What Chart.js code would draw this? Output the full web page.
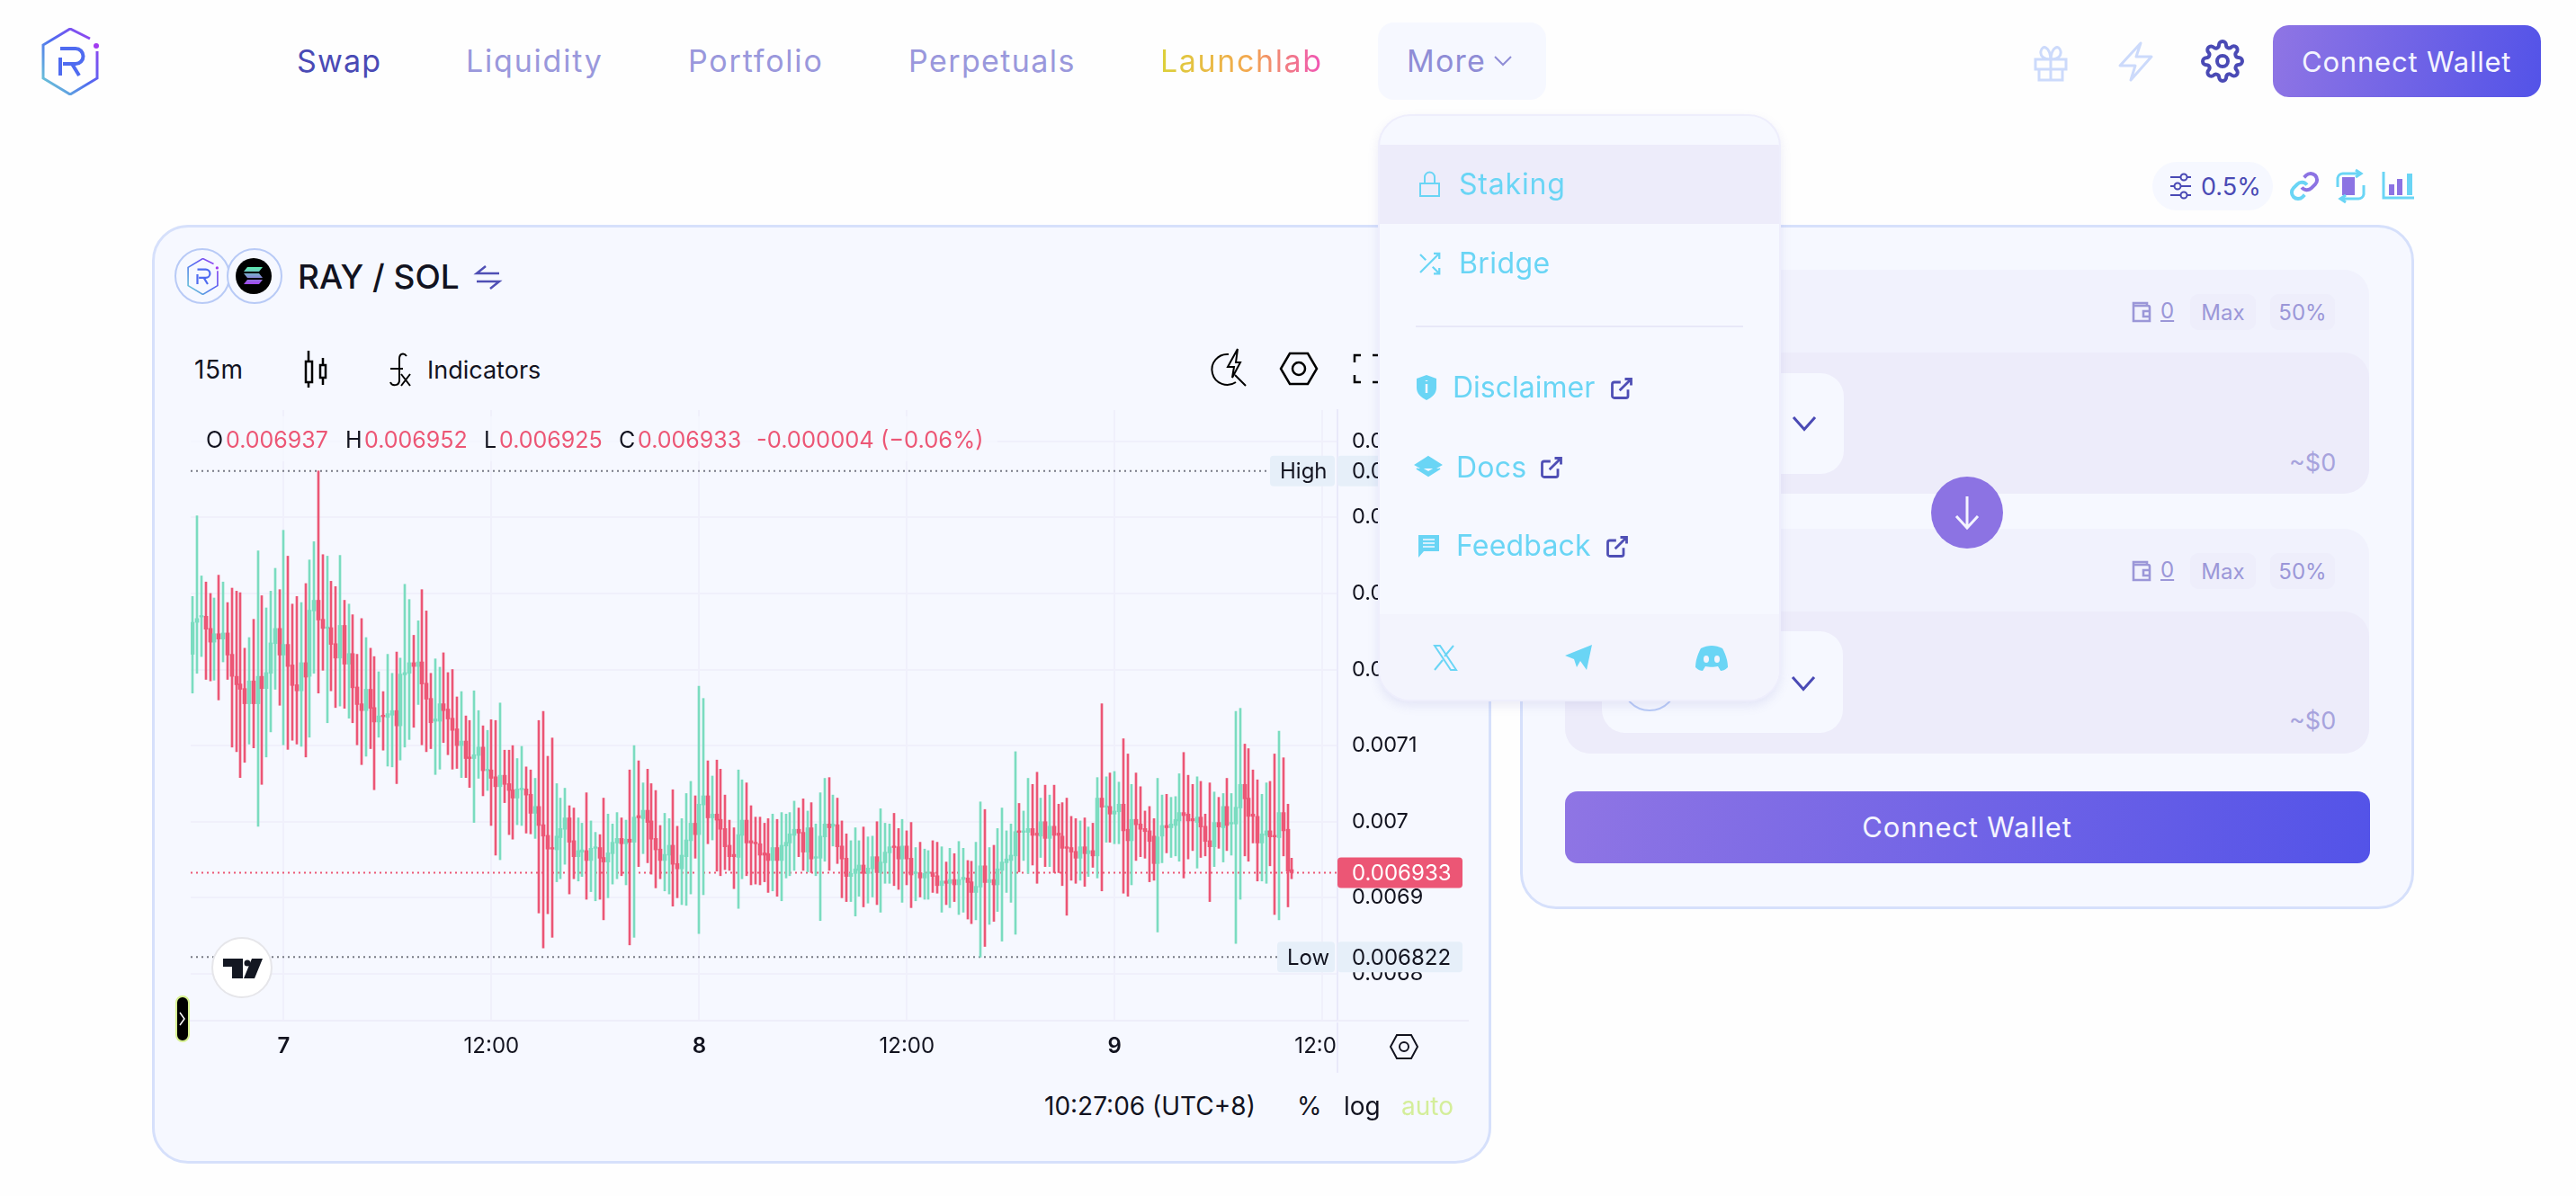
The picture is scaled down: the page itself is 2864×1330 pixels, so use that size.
<!DOCTYPE html>
<html>
<head>
<meta charset="utf-8">
<title>RAY / SOL</title>
<script src="https://cdn.jsdelivr.net/npm/chart.js@4/dist/chart.umd.min.js"></script>
<style>
html, body { margin: 0; padding: 0; background: #fefefe; }
body { width: 2864px; height: 1330px; overflow: hidden; position: relative; font-family: Inter, sans-serif; color: #12131f; }
.box { position: absolute; box-sizing: border-box; }
.t { position: absolute; white-space: nowrap; line-height: 1; transform: translateY(-50%); }
.nav { font-size: 34px; color: #9a98dc; letter-spacing: 1.8px; }
.menu-t { font-size: 32px; color: #6ad5f5; }
.pill { position: absolute; background: #eeeefb; border-radius: 9px; color: #9b97d8; font-size: 24px; display: flex; align-items: center; justify-content: center; }
.usd { font-size: 27px; color: #a7a3dd; }
.low { z-index: 1; }
.mid { z-index: 3; }
.top { z-index: 6; }
svg.layer { position: absolute; left: 0; top: 0; pointer-events: none; }
#chartWrap { position: absolute; left: 170px; top: 440px; width: 1457px; height: 750px; z-index: 2; }
.legend { font-size: 25px; color: #ec5675; }
.legend b { font-weight: 400; color: #12131f; }
</style>
</head>
<body>

<!-- nav -->
<div class="t nav" style="left:330px;top:68px;color:#4a4ab5;letter-spacing:1.2px">Swap</div>
<div class="t nav" style="left:518px;top:68px">Liquidity</div>
<div class="t nav" style="left:765px;top:68px">Portfolio</div>
<div class="t nav" style="left:1010px;top:68px;letter-spacing:1.4px">Perpetuals</div>
<div class="t nav" style="left:1290px;top:68px;letter-spacing:1.6px;background:linear-gradient(90deg,#dcd13a,#f3a74e 55%,#f052b8);-webkit-background-clip:text;background-clip:text;color:transparent">Launchlab</div>
<div class="box" style="left:1532px;top:25px;width:187px;height:86px;background:#f6f8ff;border-radius:18px"></div>
<div class="t nav" style="left:1564px;top:68px;color:#8f8dd6;z-index:1;letter-spacing:1.2px">More</div>
<div class="box" style="left:2527px;top:28px;width:298px;height:80px;border-radius:18px;background:linear-gradient(100deg,#8f75e4,#5353e8)"></div>
<div class="t" style="left:2559px;top:68px;font-size:31px;color:#f4f4ff;letter-spacing:.8px;z-index:1">Connect Wallet</div>
<div class="box" style="left:2393px;top:180px;width:134px;height:54px;background:#f6f8ff;border-radius:27px"></div>
<div class="t" style="left:2447px;top:207px;font-size:27px;color:#4a4ab5">0.5%</div>

<!-- chart card -->
<div class="box low" style="left:169px;top:250px;width:1489px;height:1044px;background:#f6f8ff;border:3px solid #d6e0fb;border-radius:40px"></div>
<div class="t low" style="left:331px;top:307px;font-size:37px;font-weight:500;z-index:3">RAY / SOL</div>
<div class="t mid" style="left:216px;top:411px;font-size:28px;letter-spacing:.6px">15m</div>
<div class="t mid" style="left:475px;top:411px;font-size:27px">Indicators</div>
<div id="chartWrap"><canvas id="chart" width="1457" height="750"></canvas></div>

<!-- OHLC legend over the plot -->
<div class="box mid" style="left:212px;top:463px;width:897px;height:50px;background:rgba(246,248,255,.75)"></div>
<div class="t legend mid" style="left:229px;top:489px"><b>O</b></div><div class="t legend mid" style="left:251px;top:489px">0.006937</div>
<div class="t legend mid" style="left:384px;top:489px"><b>H</b></div><div class="t legend mid" style="left:405px;top:489px">0.006952</div>
<div class="t legend mid" style="left:538px;top:489px"><b>L</b></div><div class="t legend mid" style="left:555px;top:489px">0.006925</div>
<div class="t legend mid" style="left:688px;top:489px"><b>C</b></div><div class="t legend mid" style="left:709px;top:489px">0.006933</div>
<div class="t legend mid" style="left:841px;top:489px;font-size:25.500px">-0.000004 (−0.06%)</div>

<!-- bits around the axes -->
<div class="box mid" style="left:1486px;top:1137px;width:160px;height:56px;background:#f6f8ff;border-left:2px solid #e9e9fa"></div>
<div class="box mid" style="left:1487px;top:1134px;width:146px;height:2px;background:#eeeefa"></div>
<div class="t mid" style="left:1161px;top:1230px;font-size:28px">10:27:06 (UTC+8)</div>
<div class="t mid" style="left:1442px;top:1230px;font-size:28px">%</div>
<div class="t mid" style="left:1494px;top:1230px;font-size:28px">log</div>
<div class="t mid" style="left:1558px;top:1230px;font-size:28px;color:#d4ee9a">auto</div>
<div class="box mid" style="left:235px;top:1042px;width:68px;height:68px;border-radius:50%;background:#fff;border:2px solid #e6e6ea"></div>
<div class="box mid" style="left:195px;top:1107px;width:16px;height:52px;border-radius:8px;background:#000;border:2px solid #d6f08f"></div>

<!-- swap card -->
<div class="box low" style="left:1690px;top:250px;width:994px;height:761px;background:#f6f8ff;border:3px solid #d6e0fb;border-radius:40px"></div>
<div class="box low" style="left:1740px;top:300px;width:894px;height:249px;background:#f1f2fd;border-radius:28px"></div>
<div class="box low" style="left:1740px;top:392px;width:894px;height:157px;background:#edecfa;border-radius:28px"></div>
<div class="box low" style="left:1781px;top:415px;width:269px;height:112px;background:#f6f8ff;border-radius:26px"></div>
<div class="box low" style="left:1740px;top:588px;width:894px;height:250px;background:#f1f2fd;border-radius:28px"></div>
<div class="box low" style="left:1740px;top:680px;width:894px;height:158px;background:#edecfa;border-radius:28px"></div>
<div class="box low" style="left:1781px;top:702px;width:268px;height:113px;background:#f6f8ff;border-radius:26px"></div>
<div class="pill low" style="left:2435px;top:327px;width:73px;height:40px">Max</div>
<div class="pill low" style="left:2524px;top:327px;width:72px;height:40px">50%</div>
<div class="pill low" style="left:2435px;top:615px;width:73px;height:40px">Max</div>
<div class="pill low" style="left:2524px;top:615px;width:72px;height:40px">50%</div>
<div class="t low" style="left:2402px;top:346px;font-size:24px;color:#9b97d8;text-decoration:underline">0</div>
<div class="t low" style="left:2402px;top:634px;font-size:24px;color:#9b97d8;text-decoration:underline">0</div>
<div class="t usd low" style="left:2545px;top:514px">~$0</div>
<div class="t usd low" style="left:2545px;top:801px">~$0</div>
<div class="box low" style="left:2147px;top:530px;width:80px;height:80px;border-radius:50%;background:#8c73e3"></div>
<div class="box low" style="left:1740px;top:880px;width:895px;height:80px;border-radius:14px;background:linear-gradient(100deg,#8f75e4,#5353e8)"></div>
<div class="t low" style="left:2187px;top:919px;font-size:31px;color:#f4f4ff;letter-spacing:.8px;transform:translate(-50%,-50%)">Connect Wallet</div>

<!-- icons below the menu -->
<svg class="layer mid" width="2864" height="1330" fill="none">
  <defs>
    <linearGradient id="rayGrad" x1="0" y1="1" x2="1" y2="0">
      <stop offset="0" stop-color="#6fd6d2"/><stop offset=".5" stop-color="#4f6bf0"/><stop offset="1" stop-color="#a23bf0"/>
    </linearGradient>
    <linearGradient id="solGrad" x1="0" y1="0" x2="0" y2="1">
      <stop offset="0" stop-color="#5ef0b0"/><stop offset="1" stop-color="#a445f0"/>
    </linearGradient>
    <symbol id="rayLogo" viewBox="0 0 64 75">
      <path d="M54 12 32 1 2 19V56L32 74 62 56V26" stroke="url(#rayGrad)" stroke-width="3"/>
      <circle cx="61" cy="20" r="3" fill="#a23bf0"/>
      <path d="M21 53V33M21 23H38a8.500 8.500 0 0 1 0 17H24M34 40 42 53" stroke="#4f6bf0" stroke-width="4"/>
    </symbol>
    <symbol id="ext" viewBox="0 0 24 24"><path d="M18 13v6a2 2 0 0 1-2 2H5a2 2 0 0 1-2-2V8a2 2 0 0 1 2-2h6M15 3h6v6M10 14 21 3" stroke="#4f4fb5" stroke-width="2.400" fill="none"/></symbol>
    <symbol id="chev" viewBox="0 0 24 24"><path d="M4 8l8 9 8-9" stroke="#4a4ab5" stroke-width="2" fill="none"/></symbol>
    <symbol id="wallet" viewBox="0 0 24 26"><path d="M3 6h16a2 2 0 0 1 2 2v15H3zM3 6V3h15v3M21 12h-7v6h7" stroke="#9b97d8" stroke-width="2.600" fill="none"/></symbol>
  </defs>
  <use href="#rayLogo" x="46" y="31" width="64" height="75"/>
  <path d="M1662 63l9 9 9-9" stroke="#8f8dd6" stroke-width="2"/>
  <g stroke="#ccdafb" stroke-width="3">
    <path d="M2263 66h34v11h-34zM2267 77v12h26v-12M2280 66v23M2280 66c-8 0-12-4-11-9 2-8 10-5 11 9zM2280 66c8 0 12-4 11-9-2-8-10-5-11 9z"/>
    <path d="M2380 48 2357 73h17l-5 16 23-26h-17z" stroke-linejoin="round"/>
  </g>
  <svg x="2447" y="44" width="48" height="48" viewBox="0 0 24 24" stroke="#4a4ab5" stroke-width="2" fill="none">
    <circle cx="12" cy="12" r="3"/>
    <path d="M19.400 15a1.650 1.650 0 0 0 .33 1.820l.06.06a2 2 0 0 1 0 2.830 2 2 0 0 1-2.830 0l-.06-.06a1.650 1.650 0 0 0-1.820-.33 1.650 1.650 0 0 0-1 1.510V21a2 2 0 0 1-2 2 2 2 0 0 1-2-2v-.09A1.650 1.650 0 0 0 9 19.400a1.650 1.650 0 0 0-1.820.33l-.06.06a2 2 0 0 1-2.830 0 2 2 0 0 1 0-2.830l.06-.06a1.650 1.650 0 0 0 .33-1.820 1.650 1.650 0 0 0-1.510-1H3a2 2 0 0 1-2-2 2 2 0 0 1 2-2h.09A1.650 1.650 0 0 0 4.600 9a1.650 1.650 0 0 0-.33-1.820l-.06-.06a2 2 0 0 1 0-2.830 2 2 0 0 1 2.830 0l.06.06a1.650 1.650 0 0 0 1.820.33H9a1.650 1.650 0 0 0 1-1.510V3a2 2 0 0 1 2-2 2 2 0 0 1 2 2v.09a1.650 1.650 0 0 0 1 1.510 1.650 1.650 0 0 0 1.820-.33l.06-.06a2 2 0 0 1 2.830 0 2 2 0 0 1 0 2.830l-.06.06a1.650 1.650 0 0 0-.33 1.820V9a1.650 1.650 0 0 0 1.510 1H21a2 2 0 0 1 2 2 2 2 0 0 1-2 2h-.09a1.650 1.650 0 0 0-1.510 1z"/>
  </svg>
  <path d="M2413 197h23M2413 207h23M2413 217h23" stroke="#4a4ab5" stroke-width="2"/>
  <circle cx="2428" cy="197" r="3.500" fill="#f6f8ff" stroke="#4a4ab5" stroke-width="2"/><circle cx="2421" cy="207" r="3.500" fill="#f6f8ff" stroke="#4a4ab5" stroke-width="2"/><circle cx="2428" cy="217" r="3.500" fill="#f6f8ff" stroke="#4a4ab5" stroke-width="2"/>
  <svg x="2545" y="190" width="34" height="34" viewBox="0 0 24 24" stroke-width="2.800" fill="none">
    <path d="M10 13a5 5 0 0 0 7.540.54l3-3a5 5 0 0 0-7.070-7.070l-1.720 1.710" stroke="#8c73e3"/>
    <path d="M14 11a5 5 0 0 0-7.540-.54l-3 3a5 5 0 0 0 7.070 7.070l1.710-1.710" stroke="#6ad5f5"/>
  </svg>
  <rect x="2604" y="197" width="14" height="20" fill="#8c73e3"/>
  <path d="M2599 208v-10a6 6 0 0 1 6-5h20M2619 189l6 4-6 4M2628 206v10a6 6 0 0 1-6 5h-20M2608 217l-6 4 6 4" stroke="#6ad5f5" stroke-width="3"/>
  <path d="M2650 191v29h34" stroke="#6ad5f5" stroke-width="3"/>
  <rect x="2656" y="205" width="6" height="12" fill="#8c73e3"/><rect x="2665" y="199" width="6" height="18" fill="#8c73e3"/><rect x="2676" y="193" width="6" height="24" fill="#6ad5f5"/>

  <!-- chart card header -->
  <circle cx="225" cy="307" r="30" fill="#f6f8ff" stroke="#b8caf6" stroke-width="2"/>
  <use href="#rayLogo" x="208" y="287" width="35" height="41"/>
  <circle cx="283" cy="307" r="30" fill="#f6f8ff" stroke="#b8caf6" stroke-width="2"/>
  <circle cx="282" cy="307" r="20" fill="#000"/>
  <path d="M275 297h17l-4 5h-17zM271 304h17l4 5h-17zM275 311h17l-4 5h-17z" fill="url(#solGrad)"/>
  <path d="M555 304h-25l10-8M530 313h25l-10 8" stroke="#4f4fb5" stroke-width="2.500"/>
  <g stroke="#000" stroke-width="2.500">
    <path d="M340 402h7v23h-7zM343 390v12M343 425v6M356 406h6v14h-6zM359 398v8M359 420v8"/>
    <path d="M452 396c-3-4-8-3-8 3v24c0 6-8 7-10 2M434 410h14M446 416l10 13M456 416l-10 13" stroke-width="2"/>
    <path d="M1366 394a17 17 0 1 0 8 31M1373 417l12 12" stroke-width="2"/>
    <path d="M1376 388l-11 20h7l-2 12 9-17h-5z" stroke-width="2"/>
    <path d="M1434 393h20l10 17-10 17h-20l-10-17z"/><circle cx="1444" cy="410" r="7"/>
    <path d="M1506 403v-8h7M1526 395h8M1506 417v8h7M1526 425h8"/>
  </g>
  <!-- token selects -->
  <use href="#chev" x="1988" y="452" width="36" height="36"/>
  <use href="#chev" x="1987" y="741" width="36" height="36"/>
  <use href="#wallet" x="2369" y="334" width="24" height="26"/>
  <use href="#wallet" x="2369" y="622" width="24" height="26"/>
  <circle cx="1834" cy="760" r="30" fill="none" stroke="#b8caf6" stroke-width="2"/>
  <path d="M2187 552v34M2175 574l12 13 12-13" stroke="#f4f4ff" stroke-width="3"/>
  <!-- tv logo, handle and gear on the chart -->
  <path d="M248 1066h22v22h-12v-13h-10zM280 1066h12l-9 22h-12z" fill="#131722"/><circle cx="275" cy="1071" r="3.500" fill="#131722"/>
  <path d="M200 1126l5 7-5 7" stroke="#fff" stroke-width="1.500"/>
  <path d="M1553 1151h16l7 13-7 13h-16l-7-13z" stroke="#12131f" stroke-width="2"/><circle cx="1561" cy="1164" r="5" stroke="#12131f" stroke-width="2"/>
</svg>

<!-- more menu -->
<div class="box top" style="left:1532px;top:127px;width:448px;height:653px;background:#f6f8ff;border:2px solid #eeeefc;border-radius:36px;box-shadow:0 5px 12px rgba(120,120,200,.14);overflow:hidden">
  <div class="box" style="left:0;top:32px;width:100%;height:88px;background:#edecfa"></div>
  <div class="box" style="left:0;top:554px;width:100%;height:100px;background:#f3f4fd"></div>
  <div class="box" style="left:40px;top:233px;width:364px;height:2px;background:#e8e8f8"></div>
</div>
<div class="t menu-t top" style="left:1622px;top:205px;letter-spacing:.8px">Staking</div>
<div class="t menu-t top" style="left:1622px;top:293px;letter-spacing:.4px">Bridge</div>
<div class="t menu-t top" style="left:1615px;top:431px">Disclaimer</div>
<div class="t menu-t top" style="left:1619px;top:520px;letter-spacing:.2px">Docs</div>
<div class="t menu-t top" style="left:1619px;top:607px;letter-spacing:.2px">Feedback</div>
<svg class="layer top" width="2864" height="1330" fill="none">
  <path d="M1579 204h21v14h-21zM1584 204v-7a5.500 5.500 0 0 1 11 0v7" stroke="#6ad5f5" stroke-width="2"/>
  <svg x="1574" y="278" width="30" height="30" viewBox="0 0 24 24" stroke="#6ad5f5" stroke-width="1.800" fill="none"><path d="M16 3h5v5M4 20 21 3M21 16v5h-5M15 15l6 6M4 4l5 5"/></svg>
  <path d="M1586 417l11 4v10c0 7-5 11-11 14-6-3-11-7-11-14v-10z" fill="#6ad5f5"/><path d="M1586 427v10M1586 423v1" stroke="#f6f8ff" stroke-width="2.500"/>
  <path d="M1588 508l14 9-14 8-14-8zM1575 521l13 8 13-8" fill="#6ad5f5" stroke="#6ad5f5" stroke-width="2"/>
  <path d="M1577 595h23v18h-17l-6 7z" fill="#6ad5f5"/><path d="M1582 600h13M1582 604h13M1582 608h13" stroke="#f6f8ff" stroke-width="1.500"/>
  <use href="#ext" x="1789" y="418" width="28" height="28"/>
  <use href="#ext" x="1711" y="506" width="28" height="28"/>
  <use href="#ext" x="1784" y="594" width="28" height="28"/>
  <path d="M1595 718h6l18 27h-6zM1616 718l-10 12M1604 734l-9 11" stroke="#6ad5f5" stroke-width="2"/>
  <path d="M1770 717l-6 28-7-10-4 7-3-9-10-4z" fill="#6ad5f5"/>
  <path d="M1891 721c8-4 16-4 24 0 4 7 6 15 6 21-3 3-6 4-8 4l-3-5c-4 1-10 1-14 0l-3 5c-2 0-5-1-8-4 0-6 2-14 6-21z" fill="#6ad5f5"/>
  <ellipse cx="1897" cy="733" rx="3" ry="4" fill="#f3f4fd"/><ellipse cx="1909" cy="733" rx="3" ry="4" fill="#f3f4fd"/>
</svg>

<script>
// RAY / SOL 15m candles, prices in millionths (7220 = 0.007220)
const opens = [
    7220,7262,7269,7270,7254,7236,7247,7240,7248,7220, 7191,7181,7175,7155,7185,7155,7191,7175,7195,7234,
    7254,7219,7233,7206,7180,7172,7209,7191,7277,7291, 7266,7254,7255,7234,7215,7258,7207,7221,7177,7155,
    7146,7174,7150,7131,7140,7137,7140,7146,7126,7193, 7195,7209,7204,7210,7182,7162,7132,7132,7155,7148,
    7136,7122,7100,7106,7085,7083,7087,7098,7067,7068, 7059,7046,7061,7050,7042,7031,7042,7043,7036,7011,
    7020,6996,6982,6966,6963,6979,6990,7005,6975,6954, 6960,6962,6949,6965,6966,6953,6947,6958,6972,6978,
    6971,6977,6973,7008,7004,7015,7001,6978,6964,6949, 6956,6969,6945,6938,6954,6975,6998,6983,7022,7034,
    7005,7010,7003,6991,6969,6957,6953,6982,7002,6975, 6973,6971,6959,6958,6949,6966,6949,6968,6972,6982,
    6990,6986,6960,6992,6952,6952,6980,6997,6994,6996, 6968,6952,6928,6932,6936,6943,6932,6938,6954,6933,
    6946,6959,6968,6967,6951,6968,6952,6932,6933,6926, 6932,6933,6929,6916,6922,6919,6924,6917,6924,6926,
    6921,6907,6914,6942,6920,6924,6917,6936,6946,6949, 6955,6988,6986,6986,6991,6985,6981,7000,6978,6994,
    6985,6981,6967,6966,6961,6952,6967,6958,6962,6955, 7031,7019,7020,7010,7013,7023,6990,6975,7003,6997,
    6991,6988,6981,6945,6981,6995,6992,6995,7001,7012, 7010,7004,6999,7006,6994,6975,6967,6999,6992,7020,
    6997,6997,7018,7049,7031,7010,7007,6972,6982,6988, 6982,6979,7012,6990,6937
];
const closes = [
    7262,7267,7271,7253,7236,7247,7240,7248,7219,7191, 7180,7174,7155,7185,7155,7191,7175,7196,7235,7254,
    7219,7233,7204,7179,7172,7209,7190,7278,7291,7265, 7254,7256,7233,7215,7258,7207,7221,7176,7154,7146,
    7174,7149,7131,7139,7138,7142,7146,7126,7194,7196, 7209,7204,7210,7181,7161,7130,7135,7155,7146,7135,
    7120,7100,7106,7083,7083,7088,7098,7067,7069,7057, 7046,7061,7049,7041,7031,7043,7044,7035,7011,7020,
    6995,6981,6964,6964,6981,6991,7005,6973,6954,6962, 6963,6949,6965,6967,6952,6947,6959,6973,6978,6971,
    6977,6973,7006,7005,7015,6999,6977,6963,6949,6957, 6969,6944,6938,6956,6976,6998,6983,7023,7034,7005,
    7010,7002,6990,6967,6954,6954,6983,7002,6972,6972, 6971,6956,6956,6949,6966,6949,6969,6973,6984,6990,
    6985,6960,6992,6951,6954,6981,6997,6992,6997,6967, 6951,6928,6932,6938,6943,6932,6939,6954,6933,6947,
    6960,6967,6966,6951,6968,6951,6930,6934,6926,6932, 6934,6928,6916,6922,6919,6924,6917,6924,6927,6920,
    6907,6915,6942,6920,6924,6917,6938,6947,6951,6956, 6987,6986,6988,6991,6982,6982,7000,6978,6994,6982,
    6982,6965,6965,6960,6952,6967,6958,6962,6955,7031, 7019,7021,7010,7014,7023,6988,6975,7003,6996,6990,
    6987,6974,6945,6980,6995,6992,6997,7003,7012,7008, 7001,7001,7006,6993,6974,6967,6999,6993,7020,6995,
    6999,7019,7049,7030,7007,7007,6972,6984,6988,6980, 6980,7012,6988,6935,6933
];
const highs = [
    7296,7402,7323,7315,7300,7294,7324,7315,7288,7307, 7303,7301,7228,7242,7266,7356,7297,7281,7303,7333,
    7305,7383,7349,7286,7296,7288,7313,7344,7368,7461, 7351,7349,7316,7309,7350,7291,7286,7272,7220,7267,
    7242,7228,7217,7197,7171,7220,7195,7223,7215,7312, 7292,7245,7264,7305,7277,7195,7214,7203,7222,7196,
    7200,7164,7171,7139,7133,7172,7146,7126,7120,7134, 7133,7156,7094,7094,7100,7083,7099,7072,7068,7057,
    7133,7145,7086,7110,7050,7031,7044,7021,7018,7005, 6998,7038,7001,6986,6983,7031,7010,6997,7012,7005,
    7002,7068,7100,7080,7051,7069,7050,7041,6995,7011, 7004,7042,6994,7004,7037,7053,7034,7178,7162,7080,
    7060,7081,7069,7035,7002,6992,7068,7055,7051,7021, 7006,7006,6998,7004,7010,7003,7012,7010,7012,7027,
    7018,7030,7014,7025,6997,7038,7057,7058,7035,7031, 7001,6984,6975,6992,6975,6993,6980,6981,7000,7017,
    6998,6997,7011,6991,7003,6988,6999,6966,6973,6964, 6962,6975,6973,6967,6947,6965,6958,6974,6965,6949,
    6948,6973,7026,7016,6966,6969,6991,7018,6988,6997, 7092,7024,7014,7057,7049,7065,7031,7048,7035,7048,
    7023,7025,7031,7007,7004,7001,7005,6993,6998,7058, 7155,7059,7064,7066,7052,7109,7089,7049,7064,7046,
    7014,7020,7004,7057,7035,7036,7032,7033,7063,7091, 7061,7049,7059,7053,7010,7051,7039,7032,7037,7057,
    7037,7145,7149,7102,7096,7068,7055,7036,7051,7053, 7089,7119,7084,7023,6952
];
const lows = [
    7169,7195,7217,7187,7185,7186,7160,7210,7187,7098, 7092,7058,7078,7102,7097,6994,7049,7085,7118,7174,
    7153,7101,7095,7107,7102,7099,7085,7111,7195,7169, 7199,7130,7172,7150,7152,7149,7136,7130,7101,7075,
    7086,7096,7042,7111,7094,7073,7072,7050,7081,7098, 7108,7124,7154,7101,7092,7096,7062,7069,7104,7088,
    7069,7070,7058,7058,7045,6999,7057,7034,7041,6995, 6956,6950,7025,6983,6977,6996,6995,6985,6984,6978,
    6880,6834,6879,6848,6921,6925,6944,6905,6925,6922, 6928,6898,6908,6896,6898,6871,6900,6918,6925,6929,
    6917,6838,6848,6941,6958,6946,6931,6913,6925,6909, 6905,6889,6900,6891,6890,6905,6952,6853,6904,6971,
    6976,6935,6929,6937,6936,6912,6886,6925,6929,6917, 6918,6917,6921,6907,6909,6902,6896,6926,6929,6936,
    6954,6936,6934,6933,6929,6870,6948,6936,6968,6945, 6900,6895,6895,6876,6902,6888,6893,6901,6891,6881,
    6919,6919,6916,6911,6894,6917,6887,6896,6901,6898, 6898,6907,6906,6881,6891,6887,6895,6878,6881,6872,
    6866,6871,6822,6836,6865,6869,6882,6843,6907,6894, 6852,6934,6949,6932,6943,6919,6953,6941,6941,6933,
    6933,6916,6877,6923,6919,6923,6915,6928,6940,6926, 6909,6973,6973,6971,6971,6906,6902,6917,6949,6954,
    6952,6921,6923,6855,6946,6959,6953,6955,6948,6926, 6951,6962,6939,6953,6955,6895,6941,6965,6947,6962,
    6956,6840,6898,6955,6948,6972,6922,6922,6919,6942, 6878,6871,6955,6888,6925
];

// x axis: bar index of each labelled tick
const tickIndexes = [21, 69, 117, 165, 213, 261];
const tickLabels = ['7', '12:00', '8', '12:00', '9', '12:00'];
const slotCount = 265; // candles plus the empty space before the price axis

const highPrice = 7461;
const lowPrice = 6822;
const lastPrice = 6933;

const UP = '#7bdcc0';
const DOWN = '#ec5675';
const GRID = '#f0f0fb';
const TEXT = '#12131f';
const FONT = 'Inter, sans-serif';

const toPrice = v => v / 1e6;
const barColors = opens.map((o, i) => (closes[i] >= o ? UP : DOWN));
const slots = Array.from({ length: slotCount }, (_, i) => {
    const k = tickIndexes.indexOf(i);
    return k >= 0 ? tickLabels[k] : '';
});

function dottedLine(ctx, x1, x2, y, color) {
    ctx.save();
    ctx.strokeStyle = color;
    ctx.lineWidth = 2;
    ctx.setLineDash([2, 4]);
    ctx.beginPath();
    ctx.moveTo(x1, y);
    ctx.lineTo(x2, y);
    ctx.stroke();
    ctx.restore();
}

function tag(ctx, x, w, y, text, bg, color, pad) {
    ctx.fillStyle = bg;
    ctx.beginPath();
    ctx.roundRect(x, y - 17, w, 34, 4);
    ctx.fill();
    ctx.fillStyle = color;
    ctx.font = '24px ' + FONT;
    ctx.textBaseline = 'middle';
    ctx.fillText(text, x + pad, y + 1);
}

// High / Low / last price lines and their axis tags
const priceLines = {
    id: 'priceLines',
    beforeDatasetsDraw(chart) {
        const { ctx, chartArea, scales } = chart;
        const left = chartArea.left;
        // snap candles to whole pixels so the thin wicks stay crisp
        chart.data.datasets.forEach((_, i) => {
            chart.getDatasetMeta(i).data.forEach(el => { el.x = Math.round(el.x); });
        });
        dottedLine(ctx, left, left + 1198, scales.y.getPixelForValue(toPrice(highPrice)), '#777a85');
        dottedLine(ctx, left, left + 1208, scales.y.getPixelForValue(toPrice(lowPrice)), '#777a85');
        dottedLine(ctx, left, chartArea.right, scales.y.getPixelForValue(toPrice(lastPrice)), DOWN);
    },
    afterDraw(chart) {
        const { ctx, chartArea, scales } = chart;
        const r = chartArea.right;
        const yHigh = scales.y.getPixelForValue(toPrice(highPrice));
        const yLow = scales.y.getPixelForValue(toPrice(lowPrice));
        const yLast = scales.y.getPixelForValue(toPrice(lastPrice));
        ctx.save();
        tag(ctx, r - 75, 72, yHigh, 'High', '#e6eff9', TEXT, 11);
        tag(ctx, r, 139, yHigh, (highPrice / 1e6).toFixed(6), '#e6eff9', TEXT, 16);
        tag(ctx, r - 67, 64, yLow, 'Low', '#e6eff9', TEXT, 11);
        tag(ctx, r, 139, yLow, (lowPrice / 1e6).toFixed(6), '#e6eff9', TEXT, 16);
        tag(ctx, r, 139, yLast, (lastPrice / 1e6).toFixed(6), DOWN, '#ffffff', 16);
        ctx.restore();
    }
};

new Chart(document.getElementById('chart'), {
    type: 'bar',
    data: {
        labels: slots,
        datasets: [
            {
                label: 'Body',
                data: opens.map((o, i) => [toPrice(o), toPrice(closes[i])]),
                backgroundColor: barColors,
                barThickness: 4,
                grouped: false
            },
            {
                label: 'Wick',
                data: lows.map((l, i) => [toPrice(l), toPrice(highs[i])]),
                backgroundColor: barColors,
                barThickness: 2,
                grouped: false
            }
        ]
    },
    options: {
        responsive: false,
        maintainAspectRatio: false,
        animation: false,
        layout: { padding: { left: 42, top: 16 } },
        plugins: {
            legend: { display: false },
            tooltip: { enabled: false }
        },
        scales: {
            x: {
                afterFit: s => { s.height = 55; },
                afterBuildTicks: s => { s.ticks = s.ticks.filter(t => tickIndexes.includes(t.value)); },
                grid: { color: GRID, lineWidth: 2, offset: false, drawTicks: false },
                border: { color: '#eeeefa', width: 2 },
                ticks: {
                    autoSkip: false,
                    maxRotation: 0,
                    padding: 14,
                    color: TEXT,
                    font: ctx => ({
                        family: FONT,
                        size: 24,
                        weight: ctx.tick && String(ctx.tick.label).length < 3 ? '600' : '400'
                    }),
                    callback(value) { return this.getLabelForValue(value); }
                }
            },
            y: {
                position: 'right',
                min: 0.0067385,
                max: 0.007541,
                // fixed axis width, and no extra room reserved for the half labels at both ends
                afterFit: s => { s.width = 140; s.paddingTop = 0; s.paddingBottom = 0; },
                // the bounds keep the range exact, only whole 0.0001 steps get a label and a grid line
                afterBuildTicks: s => {
                    s.ticks = s.ticks.filter(t => Math.abs(t.value * 1e4 - Math.round(t.value * 1e4)) < 1e-6);
                },
                grid: { color: GRID, lineWidth: 2, drawTicks: false },
                border: { color: '#e9e9fa', width: 2 },
                ticks: {
                    stepSize: 0.0001,
                    padding: 16,
                    color: TEXT,
                    font: { family: FONT, size: 23.5 },
                    callback: v => String(Number(v.toFixed(4)))
                }
            }
        }
    },
    plugins: [priceLines]
});
</script>
</body>
</html>
